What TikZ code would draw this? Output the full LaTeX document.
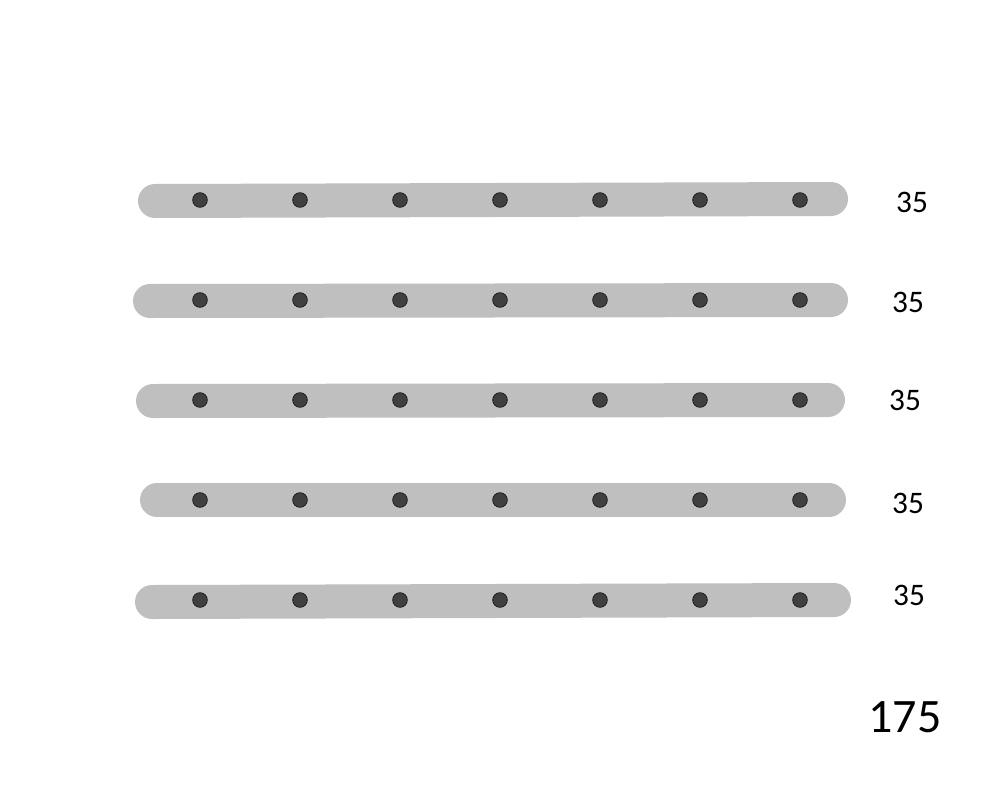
\documentclass[tikz,border=0pt]{standalone}
\usepackage{fontspec}
\setmainfont{Carlito}
\begin{document}
\begin{tikzpicture}[x=0.75pt,y=-0.75pt,
  bar/.style={line width=25.5pt,line cap=round,draw={rgb,255:red,191;green,191;blue,191}},
  dot/.style={circle,fill={rgb,255:red,64;green,64;blue,64},draw={rgb,255:red,30;green,30;blue,30},line width=0.6pt,inner sep=0pt,minimum size=11pt},
  lbl/.style={font=\fontsize{23.5}{28}\selectfont,inner sep=0pt},
  tot/.style={font=\fontsize{36}{42}\selectfont,inner sep=0pt}]
\useasboundingbox (0,0) rectangle (1000,800);
% bars
\draw[bar] (155,201) -- (831,199);
\draw[bar] (150,301) -- (831,300);
\draw[bar] (153,401) -- (828,400);
\draw[bar] (157,500) -- (829,500);
\draw[bar] (152,602) -- (834,600);
% dots
\foreach \r/\y in {1/200,2/300,3/400,4/500,5/600}{
  \foreach \c/\x in {1/200,2/300,3/400,4/500,5/600,6/700,7/800}{
    \node[dot] (d\r\c) at (\x,\y) {};
  }
}
% labels
\node[lbl] (l1) at (912,202) {35};
\node[lbl] (l2) at (908,302) {35};
\node[lbl] (l3) at (905,400) {35};
\node[lbl] (l4) at (908,503) {35};
\node[lbl] (l5) at (909,595) {35};
\node[tot] (t) at (905,717) {175};
\end{tikzpicture}
\end{document}
